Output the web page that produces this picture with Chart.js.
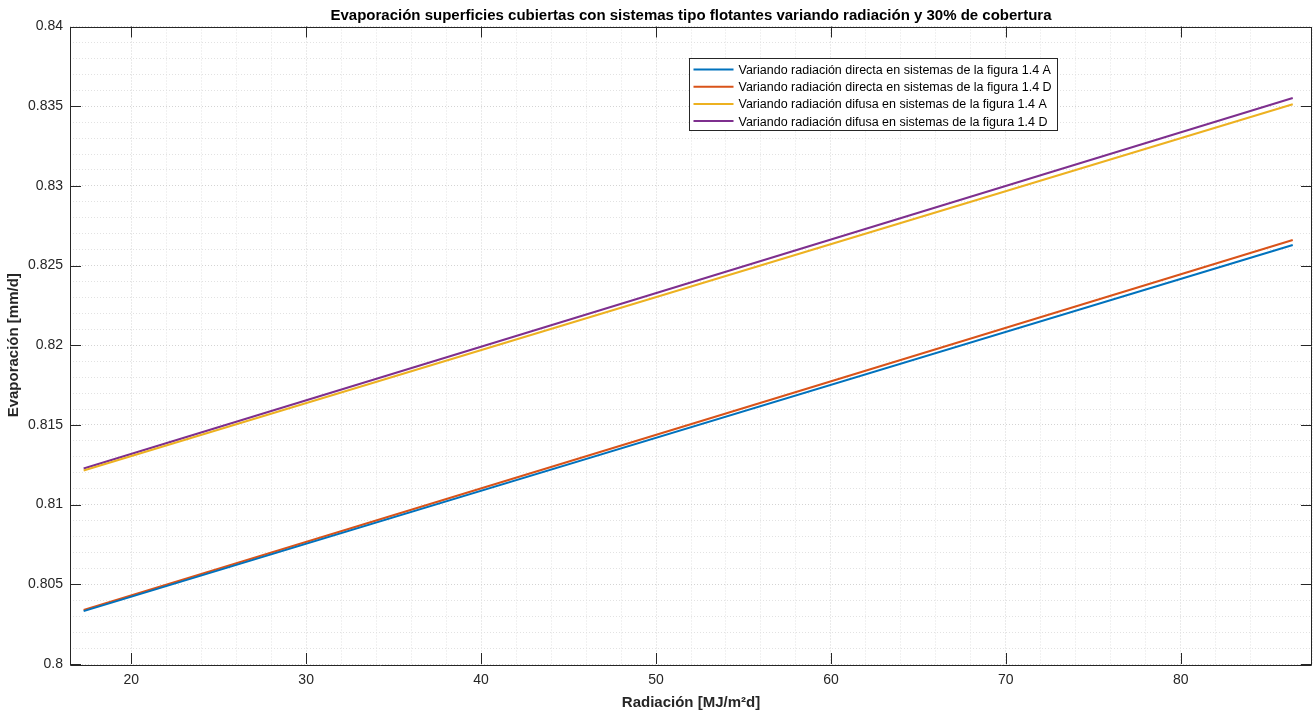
<!DOCTYPE html>
<html>
<head>
<meta charset="utf-8">
<script src="https://cdn.jsdelivr.net/npm/chart.js@4/dist/chart.umd.min.js"></script>
<style>
  html, body { margin: 0; padding: 0; background: #fff; }
  #wrap { width: 1314px; height: 713px; }
</style>
</head>
<body>
<div id="wrap"><canvas id="myChart" width="1314" height="713"></canvas></div>
<script>
// datos
const radiacion = [17.28, 86.4];
const directaA = [0.80332, 0.82629];
const directaD = [0.80339, 0.8266];
const difusaA = [0.81214, 0.83512];
const difusaD = [0.81227, 0.83551];

const titulo = 'Evaporación superficies cubiertas con sistemas tipo flotantes variando radiación y 30% de cobertura';
const etiquetas = [
    'Variando radiación directa en sistemas de la figura 1.4 A',
    'Variando radiación directa en sistemas de la figura 1.4 D',
    'Variando radiación difusa en sistemas de la figura 1.4 A',
    'Variando radiación difusa en sistemas de la figura 1.4 D'
];
const colores = ['#0072BD', '#D95319', '#EDB120', '#7E2F8E'];
const xTicks = [20, 30, 40, 50, 60, 70, 80];
const yTicks = [0.8, 0.805, 0.81, 0.815, 0.82, 0.825, 0.83, 0.835, 0.84];

const puntos = (ys) => radiacion.map((x, i) => ({ x: x, y: ys[i] }));
const series = [directaA, directaD, difusaA, difusaD];

const esMayorX = (v) => xTicks.some(t => Math.abs(t - v) < 1e-6);
const esMayorY = (v) => yTicks.some(t => Math.abs(t - v) < 1e-7);

// titulo, caja, marcas interiores y leyenda al estilo MATLAB
const cajaMatlab = {
    id: 'cajaMatlab',
    afterDraw(chart) {
        const { ctx, chartArea: a, scales } = chart;
        ctx.save();
        ctx.strokeStyle = '#262626';
        ctx.lineWidth = 1;
        ctx.beginPath();
        ctx.rect(Math.round(a.left) + 0.5, Math.round(a.top) + 0.5,
                 Math.round(a.right - a.left) - 1, Math.round(a.bottom - a.top));
        ctx.stroke();
        ctx.beginPath();
        xTicks.forEach(t => {
            const px = Math.round(scales.x.getPixelForValue(t)) + 0.5;
            ctx.moveTo(px, a.bottom); ctx.lineTo(px, a.bottom - 11);
            ctx.moveTo(px, a.top); ctx.lineTo(px, a.top + 11);
        });
        yTicks.forEach(t => {
            const py = Math.round(scales.y.getPixelForValue(t)) + 0.5;
            ctx.moveTo(a.left, py); ctx.lineTo(a.left + 11, py);
            ctx.moveTo(a.right, py); ctx.lineTo(a.right - 11, py);
        });
        ctx.stroke();

        // titulo centrado sobre el area del grafico
        ctx.fillStyle = '#000';
        ctx.font = 'bold 15px "Liberation Sans", Arial, sans-serif';
        ctx.textAlign = 'center';
        ctx.textBaseline = 'alphabetic';
        ctx.fillText(titulo, (a.left + a.right) / 2, 20);

        // leyenda
        const lx = 689.5, ly = 58.5, lw = 368, lh = 72;
        ctx.fillStyle = '#fff';
        ctx.fillRect(lx, ly, lw, lh);
        ctx.strokeStyle = '#262626';
        ctx.strokeRect(lx, ly, lw, lh);
        ctx.font = '12.5px "Liberation Sans", Arial, sans-serif';
        ctx.textAlign = 'left';
        ctx.textBaseline = 'middle';
        chart.data.datasets.forEach((ds, i) => {
            const yy = ly + 11 + i * 17.2;
            ctx.strokeStyle = ds.borderColor;
            ctx.lineWidth = 2;
            ctx.beginPath();
            ctx.moveTo(lx + 4, yy); ctx.lineTo(lx + 44, yy);
            ctx.stroke();
            ctx.fillStyle = '#000';
            ctx.fillText(ds.label, lx + 49, yy + 1);
        });
        ctx.restore();
    }
};

const ctx = document.getElementById('myChart').getContext('2d');
const myChart = new Chart(ctx, {
    type: 'line',
    data: {
        datasets: series.map((s, i) => ({
            label: etiquetas[i],
            data: puntos(s),
            borderColor: colores[i],
            backgroundColor: colores[i],
            borderWidth: 2,
            pointRadius: 0,
            tension: 0
        }))
    },
    options: {
        responsive: false,
        animation: false,
        layout: { padding: { right: 2, top: 26.5, bottom: 0, left: 0 } },
        plugins: {
            legend: { display: false },
            tooltip: { enabled: false },
            title: { display: false }
        },
        scales: {
            x: {
                type: 'linear',
                min: 16.5,
                max: 87.5,
                afterFit: (s) => { s.height = 49; s.paddingRight = 0; s.paddingLeft = 0; },
                grid: {
                    drawTicks: false,
                    color: (c) => esMayorX(c.tick.value) ? '#d4d4d4' : '#e2e2e2',
                    lineWidth: 1
                },
                border: { display: false, dash: [1, 2] },
                ticks: {
                    stepSize: 2,
                    autoSkip: false,
                    maxRotation: 0,
                    padding: 8,
                    color: '#262626',
                    font: { family: '"Liberation Sans", Arial, sans-serif', size: 14 },
                    callback: (v) => esMayorX(v) ? String(Math.round(v)) : ''
                },
                title: {
                    display: true,
                    text: 'Radiación [MJ/m²d]',
                    color: '#262626',
                    font: { family: '"Liberation Sans", Arial, sans-serif', size: 15, weight: 'bold' },
                    padding: { top: 0, bottom: 1 }
                }
            },
            y: {
                type: 'linear',
                min: 0.8,
                max: 0.84,
                afterFit: (s) => { s.width = 70; s.paddingTop = 0; s.paddingBottom = 0; },
                grid: {
                    drawTicks: false,
                    color: (c) => esMayorY(c.tick.value) ? '#d4d4d4' : '#e2e2e2',
                    lineWidth: 1
                },
                border: { display: false, dash: [1, 2] },
                ticks: {
                    stepSize: 0.001,
                    autoSkip: false,
                    padding: 7,
                    color: '#262626',
                    font: { family: '"Liberation Sans", Arial, sans-serif', size: 14 },
                    callback: (v) => esMayorY(v) ? String(+v.toFixed(3)) : ''
                },
                title: {
                    display: true,
                    text: 'Evaporación [mm/d]',
                    color: '#262626',
                    font: { family: '"Liberation Sans", Arial, sans-serif', size: 15, weight: 'bold' },
                    padding: { top: 5, bottom: 0 }
                }
            }
        }
    },
    plugins: [cajaMatlab]
});
</script>
</body>
</html>
